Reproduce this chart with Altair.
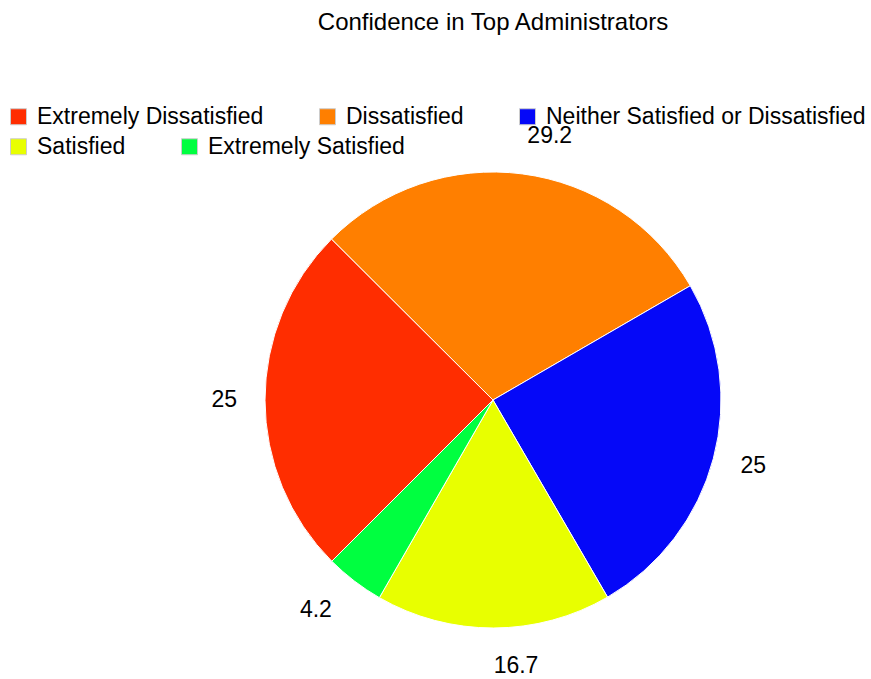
import math
import altair as alt
import pandas as pd

categories = ["Extremely Dissatisfied", "Dissatisfied", "Neither Satisfied or Dissatisfied", "Satisfied", "Extremely Satisfied"]
values = [25, 29.2, 25, 16.7, 4.2]
colors = ["#FF2D00", "#FF7F00", "#0508F8", "#E8FF00", "#00FF40"]
legend_row1 = categories[:3]
legend_row2 = categories[3:]

df = pd.DataFrame({"category": categories, "value": values, "idx": list(range(len(categories)))})
df["label"] = df["value"].map(lambda v: f"{v:g}")
total = float(sum(values))

START = "(5*PI/4)"
start = 5 * math.pi / 4
theta_scale = alt.Scale(domain=[0, total], range=[start, start + 2 * math.pi], zero=True, nice=False)

base = (
    alt.Chart(df)
    .transform_joinaggregate(total="sum(value)")
    .transform_window(cum="sum(value)", sort=[alt.SortField("idx")], frame=[None, 0])
    .transform_calculate(s0="datum.cum - datum.value", mid="datum.cum - datum.value / 2")
    .transform_calculate(ang=f"{START} + 2*PI*datum.mid/datum.total")
)


def legend(y):
    return alt.Legend(
        title=None, orient="none", legendX=-108, legendY=y, direction="horizontal",
        symbolType="square", symbolSize=256, symbolStrokeColor="#cccccc", symbolStrokeWidth=1,
        labelFontSize=23, labelFont="Liberation Sans", labelColor="#000000", labelLimit=600,
        columnPadding=52, labelOffset=7,
    )


def slices(cats, y):
    cols = [colors[categories.index(c)] for c in cats]
    return base.transform_filter(alt.FieldOneOfPredicate(field="category", oneOf=cats)).mark_arc(
        outerRadius=228, stroke="#ffffff", strokeWidth=1
    ).encode(
        theta=alt.Theta("s0:Q", scale=theta_scale),
        theta2="cum:Q",
        color=alt.Color("category:N", scale=alt.Scale(domain=cats, range=cols), legend=legend(y)),
    )


enc = dict(theta=alt.Theta("mid:Q", stack=None, scale=theta_scale), text="label:N")


def label_layer(cond, align, radius):
    return base.transform_filter(cond).mark_text(
        radius=radius, align=align, baseline="middle", fontSize=23,
        font="Liberation Sans", color="#000000"
    ).encode(**enc)


layers = [
    slices(legend_row1, -16),
    slices(legend_row2, 14),
    label_layer("sin(datum.ang) >= 0 && abs(cos(datum.ang)) >= 0.75", "left", 266),
    label_layer("sin(datum.ang) >= 0 && abs(cos(datum.ang)) < 0.75", "left", 256),
    label_layer("sin(datum.ang) < 0 && abs(cos(datum.ang)) >= 0.75", "right", 265),
    label_layer("sin(datum.ang) < 0 && abs(cos(datum.ang)) < 0.75", "right", 256),
]

chart = alt.layer(*layers).resolve_scale(color="independent").resolve_legend(color="independent").properties(
    width=756, height=558,
    autosize=alt.AutoSizeParams(type="none"),
    padding={"left": 115, "top": 121, "right": 0, "bottom": 0},
    title=alt.TitleParams("Confidence in Top Administrators", fontSize=24, fontWeight="normal",
                          font="Liberation Sans", color="#000000", anchor="middle", offset=70),
).configure_view(stroke=None)

chart.save("out.html", embed_options={"renderer": "svg", "actions": False})
